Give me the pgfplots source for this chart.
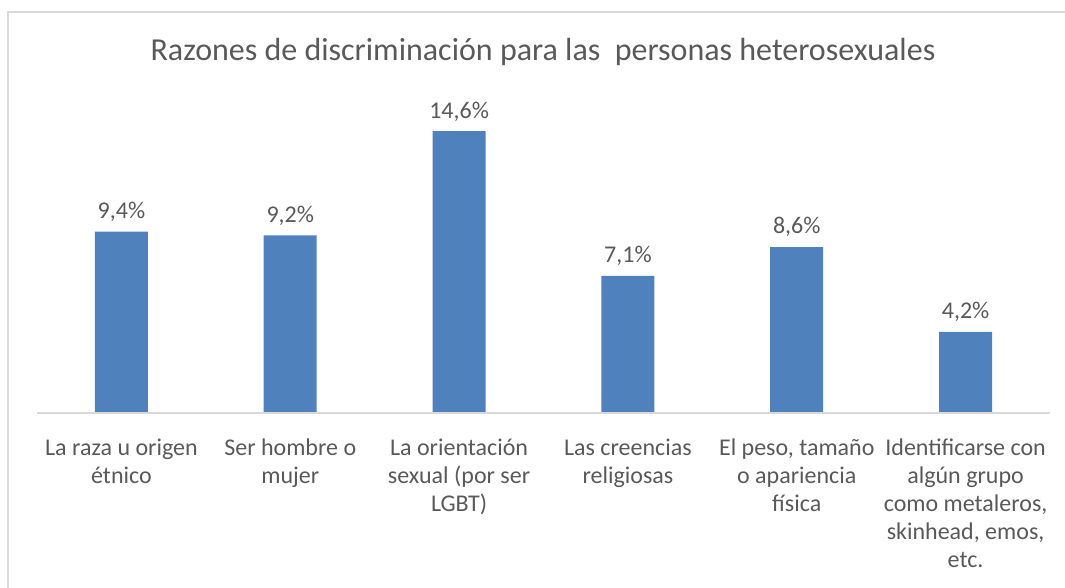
\documentclass[border=0pt]{standalone}
\usepackage{pgfplots}
\pgfplotsset{compat=1.18}
\usepackage{fontspec}
\setmainfont{Carlito}
\definecolor{barblue}{HTML}{4F81BD}
\definecolor{txtgray}{HTML}{595959}
\definecolor{linegray}{HTML}{D9D9D9}
\begin{document}
\begin{tikzpicture}
% page frame: 1065 x 588 px at 0.75pt per px
\useasboundingbox (0,0) rectangle (798.75pt,441pt);
\draw[linegray, line width=1.2pt] (6pt,-5pt) -- (6pt,432pt) -- (805pt,432pt);
\node[text=txtgray, font=\fontsize{24}{29}\selectfont] at (407.25pt,402pt)
  {Razones de discriminación para las\ \ personas heterosexuales};
\begin{axis}[
  at={(27.75pt,131.25pt)}, anchor=south west,
  width=759.75pt, height=231.6pt,
  scale only axis,
  ybar, bar width=39.75pt,
  xmin=-0.5, xmax=5.5,
  ymin=0, ymax=16,
  axis line style={draw=none},
  axis x line*=bottom,
  ytick=\empty,
  xtick=data,
  major tick length=0pt,
  xticklabels={
    {La raza u origen\\étnico},
    {Ser hombre o\\mujer},
    {La orientación\\sexual (por ser\\LGBT)},
    {Las creencias\\religiosas},
    {El peso, tamaño\\o apariencia\\física},
    {Identificarse con\\algún grupo\\como metaleros,\\skinhead, emos,\\etc.}},
  xticklabel style={align=center, text=txtgray,
    font=\fontsize{18}{21}\selectfont, yshift=-16pt},
  /pgf/number format/assume math mode=true,
  nodes near coords={\pgfmathprintnumber[fixed,fixed zerofill,precision=1,use comma]{\pgfplotspointmeta}\%},
  every node near coord/.append style={text=txtgray,
    font=\fontsize{18}{21}\selectfont, yshift=4pt},
  clip=false,
]
\addplot[fill=barblue, draw=none] coordinates {
  (0,9.4) (1,9.2) (2,14.6) (3,7.1) (4,8.6) (5,4.2)
};
\draw[linegray, line width=1.2pt] (axis cs:-0.5,0) -- (axis cs:5.5,0);
\end{axis}
\end{tikzpicture}
\end{document}
